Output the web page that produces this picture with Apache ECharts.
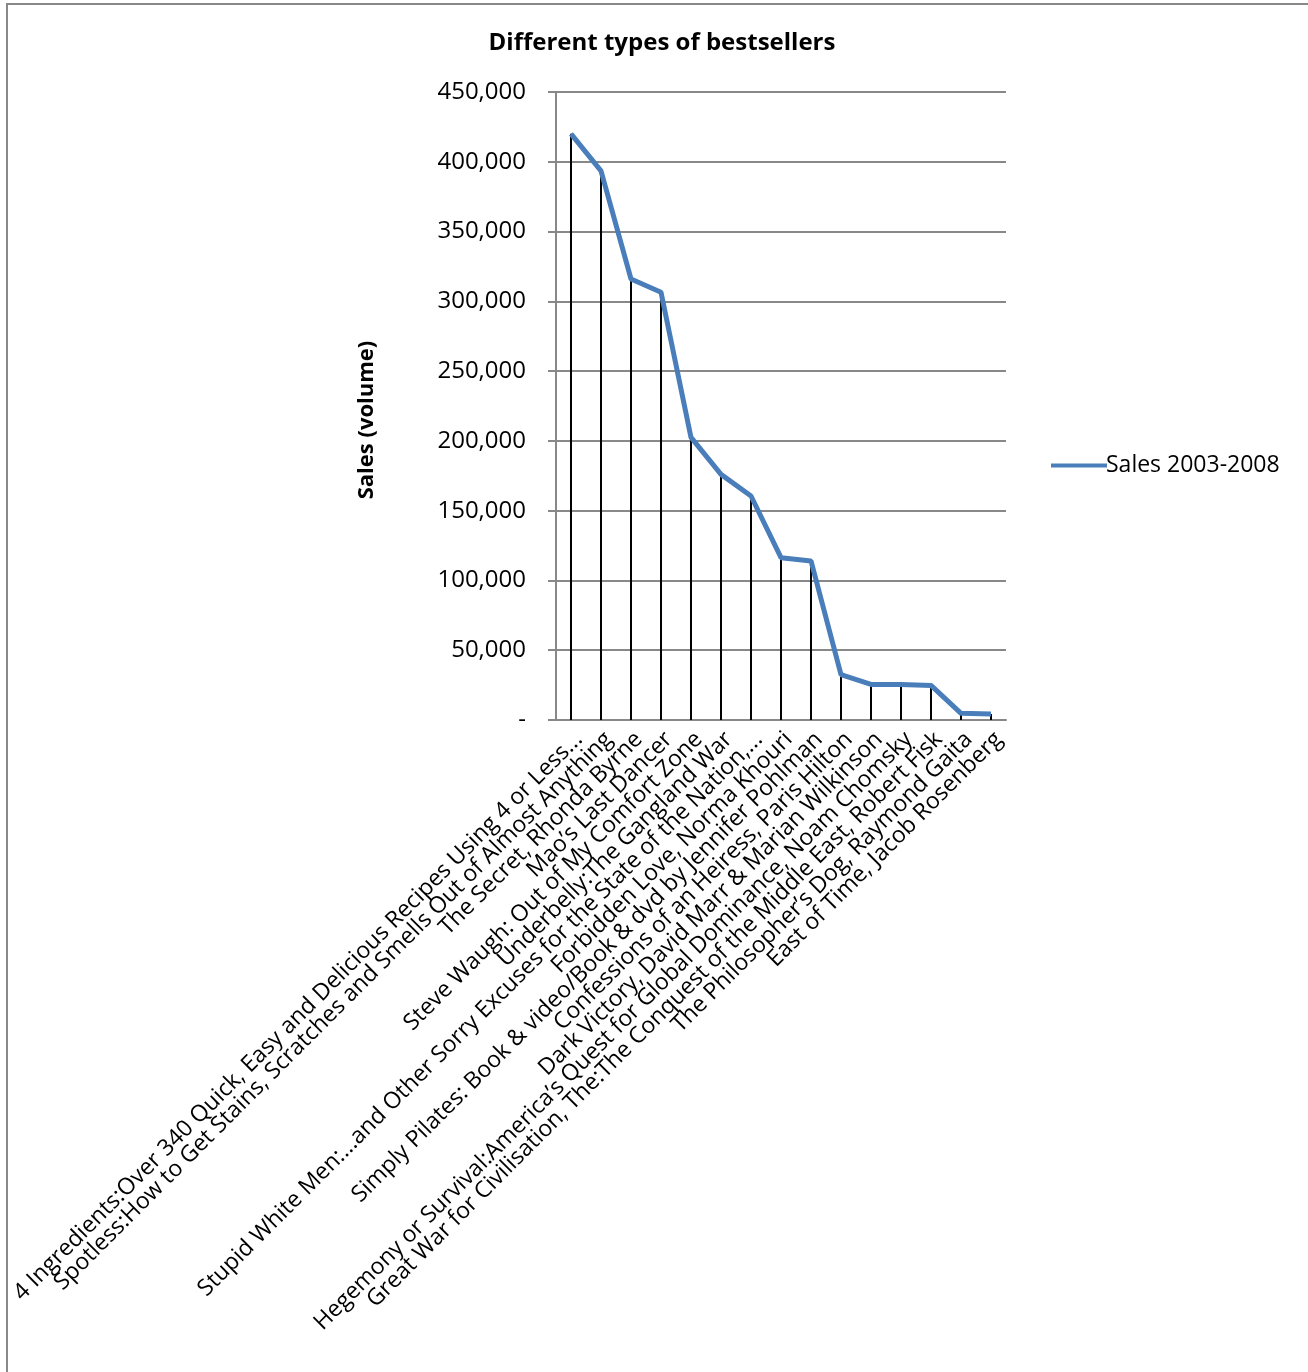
<!DOCTYPE html>
<html>
<head>
<meta charset="utf-8">
<title>Different types of bestsellers</title>
<script src="https://cdn.jsdelivr.net/npm/echarts@6/dist/echarts.min.js"></script>
<style>
  html, body { margin: 0; padding: 0; background: #fff; }
  #main { width: 1308px; height: 1372px; }
</style>
</head>
<body>
<div id="main"></div>
<script>
// book titles on the category axis
var books = [
    '4 Ingredients:Over 340 Quick, Easy and Delicious Recipes Using 4 or Less...',
    'Spotless:How to Get Stains, Scratches and Smells Out of Almost Anything',
    'The Secret, Rhonda Byrne',
    'Mao\u2019s Last Dancer',
    'Steve Waugh: Out of My Comfort Zone',
    'Underbelly:The Gangland War',
    'Stupid White Men:...and Other Sorry Excuses for the State of the Nation,...',
    'Forbidden Love, Norma Khouri',
    'Simply Pilates: Book & video/Book & dvd by Jennifer Pohlman',
    'Confessions of an Heiress, Paris Hilton',
    'Dark Victory, David Marr & Marian Wilkinson',
    'Hegemony or Survival:America\u2019s Quest for Global Dominance, Noam Chomsky',
    'Great War for Civilisation, The:The Conquest of the Middle East, Robert Fisk',
    'The Philosopher\u2019s Dog, Raymond Gaita',
    'East of Time, Jacob Rosenberg'
]

// sales volume
var sales = [420000, 393500, 316000, 306500, 202500, 176000, 160500, 116300, 114000, 32500, 25500, 25400, 24800, 4800, 4300]

var seriesName = 'Sales 2003-2008'

var font = '"Open Sans", "Liberation Sans", sans-serif'

var chart = echarts.init(document.getElementById('main'))

var option = {
    backgroundColor: '#fff',
    animation: false,
    textStyle: { fontFamily: font, color: '#000' },
    title: {
        text: 'Different types of bestsellers',
        left: 657,
        textAlign: 'center',
        top: 26,
        textStyle: { fontFamily: font, fontSize: 24, fontWeight: 'bold', color: '#000' }
    },
    legend: {
        data: [seriesName],
        left: 1046,
        top: 449,
        orient: 'vertical',
        itemWidth: 56,
        itemHeight: 4,
        itemGap: 2,
        icon: 'path://M0,0 L56,0 L56,4 L0,4 Z',
        textStyle: { fontFamily: font, fontSize: 23, color: '#000', padding: [0, 0, 0, -6] }
    },
    grid: { left: 556, right: 302, top: 92, bottom: 652, containLabel: false },
    xAxis: {
        type: 'category',
        data: books,
        boundaryGap: true,
        axisLine: { lineStyle: { color: '#888', width: 2 } },
        axisTick: { show: false },
        axisLabel: {
            interval: 0,
            rotate: 45,
            margin: 8,
            verticalAlign: 'top',
            lineHeight: 22,
            fontFamily: font,
            fontSize: 23,
            color: '#000'
        }
    },
    yAxis: {
        type: 'value',
        min: 0,
        max: 450000,
        interval: 50000,
        name: 'Sales (volume)',
        nameLocation: 'middle',
        nameGap: 178,
        nameTextStyle: { fontFamily: font, fontSize: 22, fontWeight: 'bold', color: '#000', padding: [0, 28, 0, 0] },
        axisLine: { show: true, lineStyle: { color: '#888', width: 2 } },
        axisTick: { show: true, inside: false, length: 8, lineStyle: { color: '#888', width: 2 } },
        splitLine: { lineStyle: { color: '#888', width: 2 } },
        axisLabel: {
            margin: 30,
            fontFamily: font,
            fontSize: 24,
            color: '#000',
            formatter: function (v) {
                return v === 0 ? '-' : v.toLocaleString('en-US')
            }
        }
    },
    series: [
        {
            // drop lines from each point down to the axis
            name: 'drop',
            type: 'bar',
            data: sales,
            barWidth: 2,
            itemStyle: { color: '#000' },
            silent: true,
            z: 1
        },
        {
            name: seriesName,
            type: 'line',
            data: sales,
            symbol: 'none',
            lineStyle: { color: '#4a7ebb', width: 5 },
            itemStyle: { color: '#4a7ebb' },
            z: 3
        }
    ],
    graphic: [
        {
            type: 'rect',
            shape: { x: 7, y: 4, width: 1400, height: 1500 },
            style: { fill: 'none', stroke: '#888', lineWidth: 2 },
            silent: true
        }
    ]
}

chart.setOption(option)
</script>
</body>
</html>
